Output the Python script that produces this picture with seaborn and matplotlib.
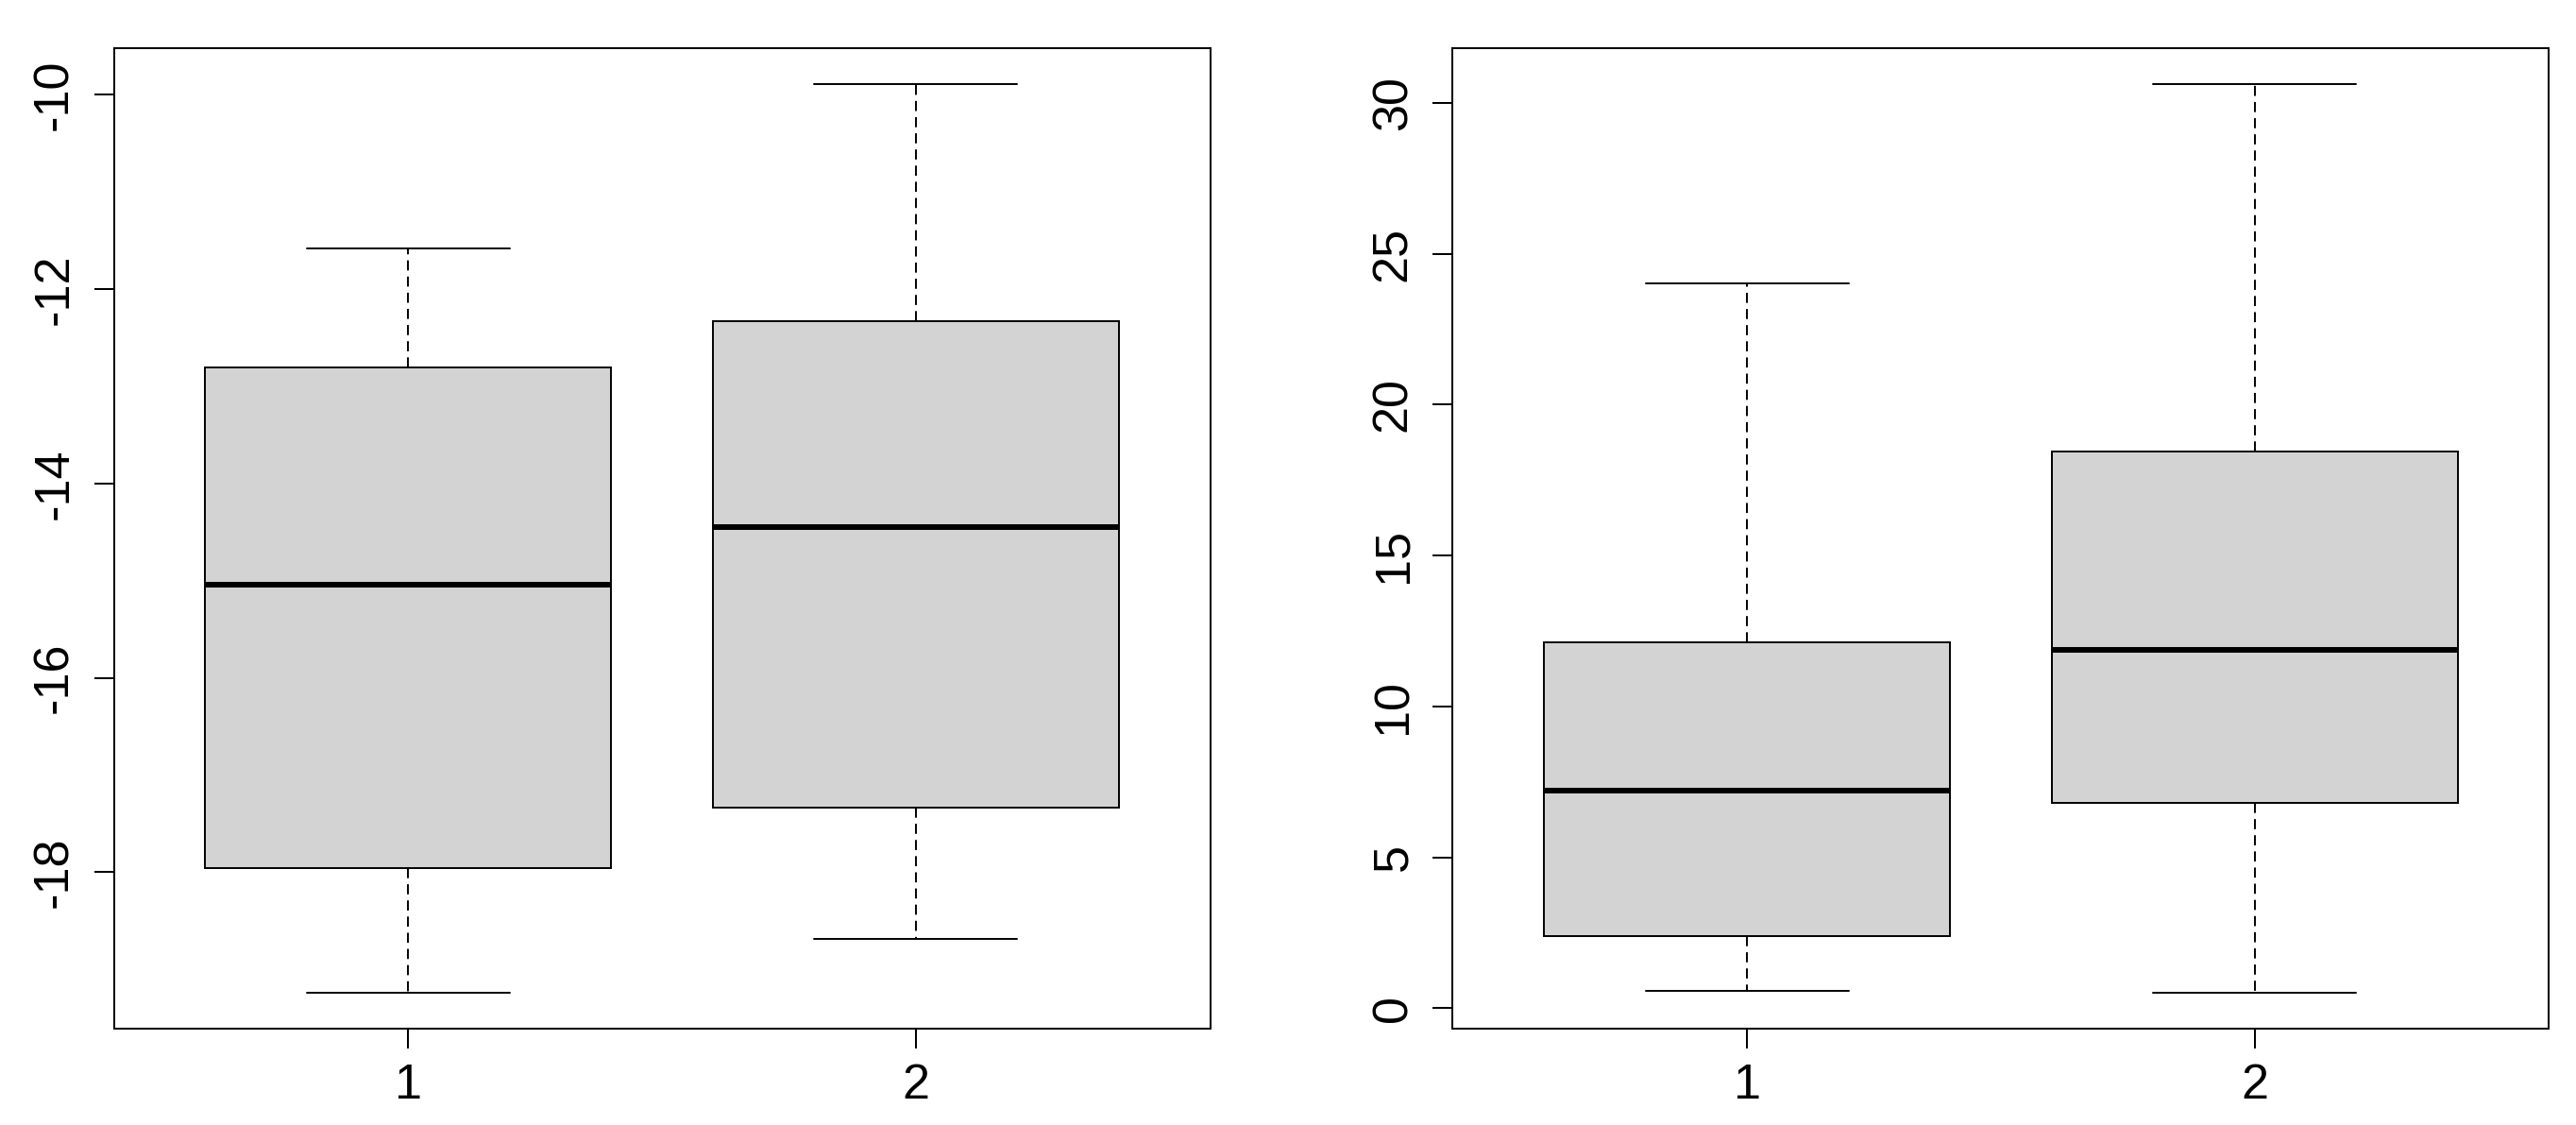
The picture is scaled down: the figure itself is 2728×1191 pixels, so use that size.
import numpy as np
import pandas as pd
import seaborn as sns
import matplotlib.pyplot as plt

# five-number summaries: low whisker, Q1, median, Q3, high whisker
groups = ["1", "2"]
left_g1 = [-19.24, -17.96, -15.04, -12.81, -11.58]
left_g2 = [-18.69, -17.34, -14.45, -12.33, -9.89]
right_g1 = [0.57, 2.38, 7.22, 12.14, 24.01]
right_g2 = [0.52, 6.82, 11.88, 18.46, 30.62]

left_ticks = [-18, -16, -14, -12, -10]
right_ticks = [0, 5, 10, 15, 20, 25, 30]


def to_long(a, b):
    return pd.DataFrame({
        "group": [groups[0]] * len(a) + [groups[1]] * len(b),
        "value": a + b,
    })


def r_boxplot(ax, data, yticks):
    sns.boxplot(
        data=data, x="group", y="value", ax=ax,
        color="#D3D3D3", saturation=1, width=0.8, whis=(0, 100),
        showfliers=False, linecolor="black", linewidth=1.4,
        medianprops=dict(color="black", linewidth=4.3),
        whiskerprops=dict(color="black", linewidth=1.4, linestyle=(0, (5.5, 3.3))),
        capprops=dict(color="black", linewidth=1.4),
        boxprops=dict(edgecolor="black", linewidth=1.4),
    )
    # R pads the data range by 4% on each side
    lo, hi = data["value"].min(), data["value"].max()
    pad = 0.04 * (hi - lo)
    ax.set_ylim(lo - pad, hi + pad)
    ax.set_xlim(-0.58, 1.58)
    ax.set_yticks(yticks)
    ax.set_yticklabels([str(t) for t in yticks])
    ax.set_xlabel("")
    ax.set_ylabel("")
    for s in ax.spines.values():
        s.set_visible(True)
        s.set_linewidth(1.44)
        s.set_color("black")
    ax.tick_params(axis="both", length=15, width=1.44, labelsize=37.5,
                   color="black", labelcolor="black")
    ax.tick_params(axis="x", pad=10.5)
    ax.tick_params(axis="y", pad=12.5, labelrotation=90)
    for lab in ax.get_yticklabels():
        lab.set_va("center")


sns.set_style("ticks")
plt.rcParams["font.family"] = ["Liberation Sans", "DejaVu Sans"]

fig = plt.figure(figsize=(27.28, 11.91), dpi=100)
ax1 = fig.add_axes([0.04425, 0.0854, 0.4256, 0.8721])
ax2 = fig.add_axes([0.5639, 0.0854, 0.4256, 0.8721])

r_boxplot(ax1, to_long(left_g1, left_g2), left_ticks)
r_boxplot(ax2, to_long(right_g1, right_g2), right_ticks)

fig.savefig("out.png", dpi=100)
